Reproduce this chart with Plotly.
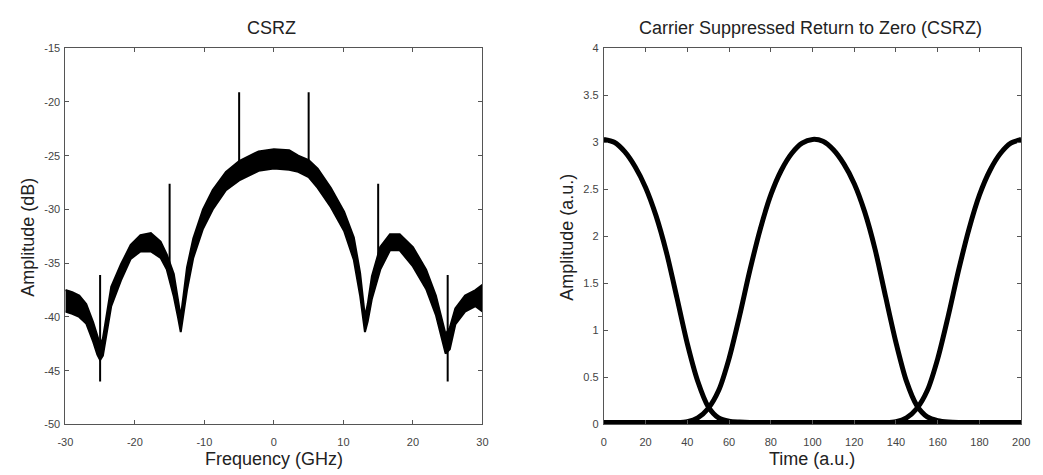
import plotly.graph_objects as go

# ---------------- Left panel: CSRZ optical spectrum ----------------
freq_ghz = [-30, -29, -28, -27, -26, -25.4, -25, -24.6, -24.3, -23.4, -22, -20.6, -19.2,
            -17.7, -16.3, -15.4, -14.4, -13.8, -13.4, -13.0, -12.5, -11.6, -10.2, -8.8,
            -6.9, -5.0, -2.2, 0, 2.2, 3.5, 5.0, 6.3, 8.2, 10.1, 11.5, 12.4, 13.1, 13.5,
            14.1, 15.3, 16.7, 18.1, 20.0, 21.9, 23.3, 24.7, 25.3, 26.1, 27.5, 29.0, 30]
spec_upper_db = [-37.5, -37.7, -38.0, -38.8, -40.5, -41.8, -42.6, -42.0, -40.8, -37.2, -35.1,
                 -33.3, -32.4, -32.2, -33.0, -34.2, -36.0, -38.5, -40.0, -38.0, -35.4, -32.7,
                 -30.0, -28.2, -26.5, -25.5, -24.6, -24.4, -24.5, -25.0, -25.4, -26.2, -28.0,
                 -30.2, -32.6, -35.9, -40.0, -38.8, -36.2, -33.5, -32.3, -32.3, -33.5, -35.6,
                 -38.0, -41.6, -41.0, -39.2, -38.0, -37.5, -37.0]
spec_lower_db = [-39.5, -39.7, -40.0, -40.6, -42.3, -43.5, -44.0, -43.6, -42.5, -39.0, -36.6,
                 -34.6, -33.9, -33.9, -34.5, -35.6, -38.1, -40.0, -41.4, -39.8, -37.5, -34.5,
                 -31.8, -30.0, -28.2, -27.3, -26.4, -26.2, -26.3, -26.5, -27.0, -28.0, -29.8,
                 -32.0, -34.7, -38.0, -41.4, -40.4, -38.3, -35.6, -33.8, -33.8, -35.3, -37.4,
                 -39.8, -43.4, -43.0, -40.7, -39.5, -39.0, -39.5]
spike_freq_ghz = [-25, -15, -5, 5, 15, 25]
spike_top_db = [-36.1, -27.6, -19.1, -19.1, -27.6, -36.1]
spike_bottom_db = [-46.0, -35.0, -26.0, -26.0, -35.0, -46.0]

freq_tick_vals = [-30, -20, -10, 0, 10, 20, 30]
freq_tick_text = ["-30", "-20", "-10", "0", "10", "20", "30"]
db_tick_vals = [-50, -45, -40, -35, -30, -25, -20, -15]
db_tick_text = ["-50", "-45", "-40", "-35", "-30", "-25", "-20", "-15"]

# ---------------- Right panel: CSRZ pulse train ----------------
time_au = [0, 5, 10, 15, 20, 25, 30, 35, 40, 45, 50, 55, 60, 65, 70, 75, 80, 85, 90, 95,
           100, 105, 110, 115, 120, 125, 130, 135, 140, 145, 150, 155, 160, 165, 170, 175,
           180, 185, 190, 195, 200]
pulse_a = [3.03, 3.0, 2.9, 2.74, 2.52, 2.22, 1.83, 1.35, 0.86, 0.46, 0.19, 0.07, 0.035, 0.025,
           0.02, 0.02, 0.02, 0.02, 0.02, 0.02, 0.02, 0.02, 0.02, 0.02, 0.02, 0.02, 0.02, 0.02,
           0.02, 0.02, 0.02, 0.02, 0.02, 0.02, 0.02, 0.02, 0.02, 0.02, 0.02, 0.02, 0.02]
pulse_b = [0.02, 0.02, 0.02, 0.02, 0.02, 0.02, 0.02, 0.02, 0.03, 0.07, 0.17, 0.36, 0.7, 1.15,
           1.64, 2.08, 2.44, 2.7, 2.88, 2.99, 3.03, 3.01, 2.92, 2.77, 2.56, 2.26, 1.86, 1.36,
           0.87, 0.46, 0.2, 0.08, 0.04, 0.025, 0.02, 0.02, 0.02, 0.02, 0.02, 0.02, 0.02]
pulse_c = [0.02, 0.02, 0.02, 0.02, 0.02, 0.02, 0.02, 0.02, 0.02, 0.02, 0.02, 0.02, 0.02, 0.02,
           0.02, 0.02, 0.02, 0.02, 0.02, 0.02, 0.02, 0.02, 0.02, 0.02, 0.02, 0.02, 0.02, 0.02,
           0.03, 0.07, 0.17, 0.36, 0.7, 1.15, 1.64, 2.08, 2.44, 2.7, 2.88, 2.99, 3.03]

time_tick_vals = [0, 20, 40, 60, 80, 100, 120, 140, 160, 180, 200]
amp_tick_vals = [0, 0.5, 1, 1.5, 2, 2.5, 3, 3.5, 4]
amp_tick_text = ["0", "0.5", "1", "1.5", "2", "2.5", "3", "3.5", "4"]

FONT = "Liberation Sans, Arial, sans-serif"
W, H = 1043, 475

fig = go.Figure()

band_x = freq_ghz + freq_ghz[::-1]
band_y = spec_upper_db + spec_lower_db[::-1]
fig.add_trace(go.Scatter(x=band_x, y=band_y, mode="lines", fill="toself",
                         fillcolor="black", line=dict(color="black", width=2),
                         xaxis="x", yaxis="y", showlegend=False, hoverinfo="skip"))

sx, sy = [], []
for f, t, b in zip(spike_freq_ghz, spike_top_db, spike_bottom_db):
    sx += [f, f, None]
    sy += [b, t, None]
fig.add_trace(go.Scatter(x=sx, y=sy, mode="lines", line=dict(color="black", width=2),
                         xaxis="x", yaxis="y", showlegend=False, hoverinfo="skip"))

for p in (pulse_a, pulse_b, pulse_c):
    fig.add_trace(go.Scatter(x=time_au, y=p, mode="lines",
                             line=dict(color="black", width=5, shape="spline", smoothing=0.8),
                             xaxis="x2", yaxis="y2", showlegend=False, hoverinfo="skip"))

def px_x(v):
    return v / W

def px_y(v):
    return (H - v) / H

ax_common = dict(showline=True, linecolor="#555", linewidth=1, mirror="ticks",
                 ticks="inside", ticklen=4, tickcolor="#555", tickwidth=1,
                 showgrid=False, zeroline=False, tickmode="array",
                 tickfont=dict(family=FONT, size=11, color="#444"))

ydom = [px_y(429.3), px_y(43.3)]
fig.update_layout(
    width=W, height=H, margin=dict(l=0, r=0, t=0, b=0),
    paper_bgcolor="white", plot_bgcolor="white",
    xaxis=dict(domain=[px_x(58.3), px_x(482.3)], range=[-30, 30],
               tickvals=freq_tick_vals, ticktext=freq_tick_text,
               anchor="y", ticklabelstandoff=7, **ax_common),
    yaxis=dict(domain=ydom, range=[-50, -15], tickvals=db_tick_vals, ticktext=db_tick_text,
               anchor="x", ticklabelstandoff=2, **ax_common),
    xaxis2=dict(domain=[px_x(605.7), px_x(1030)], range=[0, 200],
                tickvals=time_tick_vals, ticktext=[str(v) for v in time_tick_vals],
                anchor="y2", ticklabelstandoff=7, **ax_common),
    yaxis2=dict(domain=ydom, range=[0, 4], tickvals=amp_tick_vals, ticktext=amp_tick_text,
                anchor="x2", ticklabelstandoff=2, **ax_common),
)

ann_font = dict(family=FONT, size=18, color="#222")
annotations = [
    dict(text="CSRZ", x=px_x(268), y=px_y(23)),
    dict(text="Carrier Suppressed Return to Zero (CSRZ)", x=px_x(816), y=px_y(23)),
    dict(text="Frequency (GHz)", x=px_x(270), y=px_y(465)),
    dict(text="Time (a.u.)", x=px_x(817), y=px_y(465)),
    dict(text="Amplitude (dB)", x=px_x(20), y=px_y(237), textangle=-90),
    dict(text="Amplitude (a.u.)", x=px_x(568), y=px_y(237), textangle=-90),
]
for a in annotations:
    fig.add_annotation(xref="paper", yref="paper", showarrow=False,
                       xanchor="center", yanchor="middle", font=ann_font, **a)

fig.write_html("out.html")
